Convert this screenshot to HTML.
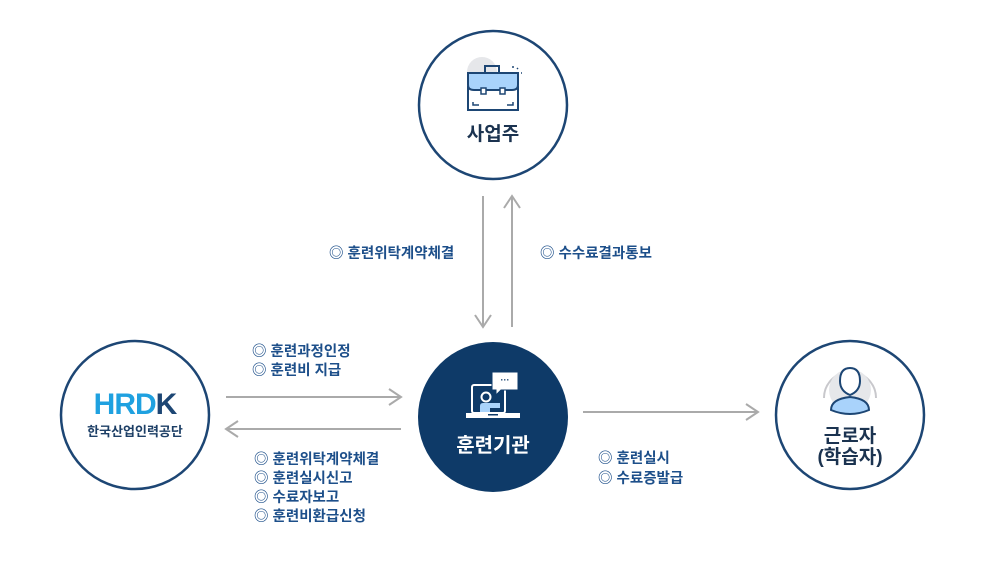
<!DOCTYPE html>
<html><head><meta charset="utf-8"><style>
html,body{margin:0;padding:0;background:#fff;}
svg{display:block;font-family:"Liberation Sans","Noto Sans CJK KR",sans-serif;}
</style></head><body>
<svg width="989" height="570" viewBox="0 0 989 570">
<defs>
<marker id="ar" markerWidth="20" markerHeight="20" refX="15" refY="10" orient="auto" markerUnits="userSpaceOnUse">
<path d="M3,2 L15,10 L3,18" fill="none" stroke="#aaa" stroke-width="2"/>
</marker>
</defs>
<circle cx="493" cy="105" r="74" fill="#fff" stroke="#1d4674" stroke-width="2.5"/>
<circle cx="135" cy="415" r="74" fill="#fff" stroke="#1d4674" stroke-width="2.5"/>
<circle cx="493" cy="417" r="75" fill="#0e3a68"/>
<circle cx="850" cy="415" r="74" fill="#fff" stroke="#1d4674" stroke-width="2.5"/>

<!-- briefcase icon -->
<circle cx="482" cy="72" r="15" fill="#e6e7ea"/>
<path d="M485,73 v-7 h14 v7" fill="none" stroke="#1d4674" stroke-width="2"/>
<path d="M468,73 h50 v12 q0,5 -6,5 h-38 q-6,0 -6,-5 z" fill="#a9d3fb" stroke="#1d4674" stroke-width="2"/>
<path d="M468,86 v24 h50 v-24" fill="none" stroke="#1d4674" stroke-width="2"/>
<rect x="481" y="88" width="5" height="6" fill="#fff" stroke="#1d4674" stroke-width="1.5"/>
<rect x="500" y="88" width="5" height="6" fill="#fff" stroke="#1d4674" stroke-width="1.5"/>
<path d="M473,102 v3 h6 M513,102 v3 h-6" fill="none" stroke="#1d4674" stroke-width="1.5"/>
<path d="M513,66 l0,2 M517,68 l1,1 M521,73 l1,0" stroke="#1d4674" stroke-width="1.5"/>
<text x="493" y="140" text-anchor="middle" font-size="19" font-weight="bold" fill="#1b3350">사업주</text>

<!-- HRDK -->
<text x="135" y="414" text-anchor="middle" font-size="30" font-weight="bold" letter-spacing="-1" fill="#1fa1e0">HRD<tspan fill="#1d4674">K</tspan></text>
<text x="135" y="436" text-anchor="middle" font-size="13" font-weight="bold" fill="#1d3f66">한국산업인력공단</text>

<!-- laptop icon -->
<rect x="472" y="385" width="33" height="28" rx="2" fill="none" stroke="#fff" stroke-width="2"/>
<path d="M466,413 h54 v5 h-54 z" fill="#fff"/>
<rect x="488" y="414" width="10" height="1.5" fill="#0e3a68"/>
<circle cx="486" cy="397" r="4.5" fill="none" stroke="#fff" stroke-width="2"/>
<path d="M480,412 v-6 q0,-3 3,-3 h17 v5 h-10 v4 z" fill="#a9d3fb"/>
<path d="M492,372 h26 v18 h-17 l-5,5 v-5 h-4 z" fill="#fff" stroke="#0e3a68" stroke-width="1"/>
<text x="505" y="383" text-anchor="middle" font-size="9" font-weight="bold" fill="#0e3a68">···</text>
<text x="493" y="452" text-anchor="middle" font-size="20" font-weight="bold" fill="#fff">훈련기관</text>

<!-- person icon -->
<path d="M824,398 A26,26 0 1 1 876,398" fill="none" stroke="#c8c8cc" stroke-width="2"/>
<circle cx="850" cy="390" r="21" fill="#e6e7ea"/>
<path d="M840,381 q0,-13 10,-13 q10,0 10,13 q0,10 -10,14 q-10,-4 -10,-14z" fill="#fff" stroke="#1d4674" stroke-width="2"/>
<path d="M831,410 q0,-11 19,-13 q19,2 19,13 q-19,8 -38,0z" fill="#a9d3fb" stroke="#1d4674" stroke-width="2"/>
<text x="850" y="442" text-anchor="middle" font-size="19" font-weight="bold" fill="#1b3350">근로자</text>
<text x="850" y="463" text-anchor="middle" font-size="19" font-weight="bold" fill="#1b3350">(학습자)</text>

<!-- arrows -->
<line x1="483" y1="196" x2="483" y2="327" stroke="#aaa" stroke-width="2" marker-end="url(#ar)"/>
<line x1="512" y1="327" x2="512" y2="196" stroke="#aaa" stroke-width="2" marker-end="url(#ar)"/>
<line x1="226" y1="397" x2="401" y2="397" stroke="#aaa" stroke-width="2" marker-end="url(#ar)"/>
<line x1="401" y1="429" x2="226" y2="429" stroke="#aaa" stroke-width="2" marker-end="url(#ar)"/>
<line x1="583" y1="412" x2="758" y2="412" stroke="#aaa" stroke-width="2" marker-end="url(#ar)"/>

<g font-size="14.5" font-weight="bold" fill="#1d4f8a">
<text x="329" y="258">◎ 훈련위탁계약체결</text>
<text x="540" y="258">◎ 수수료결과통보</text>
<text x="252" y="356">◎ 훈련과정인정</text>
<text x="252" y="375">◎ 훈련비 지급</text>
<text x="254" y="464">◎ 훈련위탁계약체결</text>
<text x="254" y="483">◎ 훈련실시신고</text>
<text x="254" y="502">◎ 수료자보고</text>
<text x="254" y="521">◎ 훈련비환급신청</text>
<text x="598" y="463">◎ 훈련실시</text>
<text x="598" y="483">◎ 수료증발급</text>
</g>
</svg>
</body></html>
